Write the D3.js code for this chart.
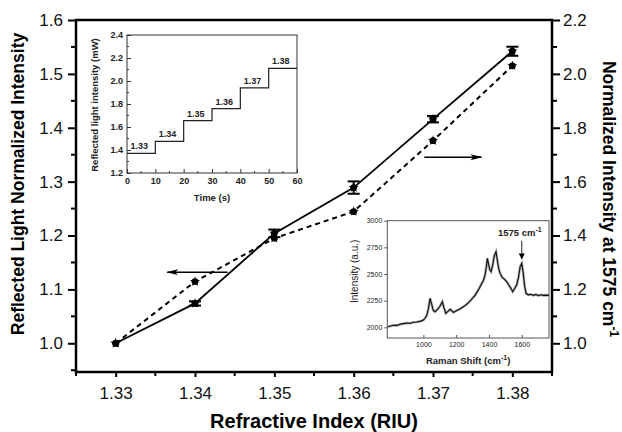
<!DOCTYPE html>
<html><head><meta charset="utf-8">
<script src="https://cdn.jsdelivr.net/npm/d3@7"></script>
<style>body{margin:0;background:#fff}svg{display:block;font-family:"Liberation Sans",Arial,sans-serif}</style>
</head><body>
<svg id="c" width="622" height="432"></svg>
<script>
// ---------- data ----------
const refractiveIndex = [1.33, 1.34, 1.35, 1.36, 1.37, 1.38];
const reflectedLight = [1.0, 1.074, 1.204, 1.289, 1.416, 1.542];   // left axis, solid
const reflectedErr   = [0.0, 0.004, 0.007, 0.0115, 0.006, 0.0084];
const ramanNormalized = [1.0, 1.229, 1.39, 1.489, 1.752, 2.03];    // right axis, dashed
const xTicks = [1.33, 1.34, 1.35, 1.36, 1.37, 1.38];
const yLeftTicks = [1.0, 1.1, 1.2, 1.3, 1.4, 1.5, 1.6];
const yRightTicks = [1.0, 1.2, 1.4, 1.6, 1.8, 2.0, 2.2];

// inset 1: step response
const stepTimes  = [0, 10, 20, 30, 40, 50, 60];
const stepLevels = [1.37, 1.475, 1.655, 1.76, 1.94, 2.11, 2.11];
const stepLabels = ["1.33", "1.34", "1.35", "1.36", "1.37", "1.38"];
const inset1XTicks = [0, 10, 20, 30, 40, 50, 60];
const inset1YTicks = [1.2, 1.4, 1.6, 1.8, 2.0, 2.2, 2.4];

// inset 2: Raman spectrum
const ramanShift = [780,800,820,840,860,880,900,920,940,960,980,1000,1010,1020,1030,1041,1050,1060,1071,1080,1090,1100,1116,1125,1137,1150,1163,1173,1183,1195,1210,1225,1244,1260,1275,1285,1300,1315,1326,1340,1356,1366,1376,1384,1390,1398,1405,1413,1422,1432,1443,1452,1460,1468,1480,1495,1508,1520,1532,1545,1555,1569,1580,1590,1600,1608,1617,1626,1640,1655,1670,1685,1700,1715,1730,1745,1766];
const ramanIntensity = [2005,2012,2020,2018,2030,2035,2040,2038,2047,2050,2056,2068,2085,2110,2170,2272,2220,2160,2146,2160,2175,2195,2240,2185,2131,2150,2169,2155,2140,2150,2162,2175,2193,2210,2232,2247,2275,2300,2328,2365,2412,2440,2490,2570,2647,2590,2540,2522,2580,2670,2709,2620,2545,2506,2470,2450,2428,2400,2370,2334,2360,2397,2470,2570,2600,2520,2390,2319,2305,2310,2300,2308,2298,2305,2300,2302,2300];
const inset2XTicks = [1000, 1200, 1400, 1600];
const inset2YTicks = [2000, 2250, 2500, 2750, 3000];
const ramanPeak = 1600;

// ---------- main chart ----------
const svg = d3.select("#c");
const L = 76, R = 552, T = 20, B = 372;
const x = d3.scaleLinear().domain([1.325, 1.385]).range([L, R]);
const yL = d3.scaleLinear().domain([0.9467, 1.6]).range([B, T]);
const yR = d3.scaleLinear().domain([0.8934, 2.2]).range([B, T]);

const defs = svg.append("defs");
defs.append("marker").attr("id","ah").attr("viewBox","0 0 12 8").attr("refX",11).attr("refY",4)
  .attr("markerWidth",12).attr("markerHeight",8).attr("markerUnits","userSpaceOnUse").attr("orient","auto")
  .append("path").attr("d","M0,1 L12,4 L0,7 L3,4 Z").attr("fill","#000");
defs.append("marker").attr("id","ahs").attr("viewBox","0 0 8 8").attr("refX",7).attr("refY",4)
  .attr("markerWidth",6).attr("markerHeight",6).attr("markerUnits","userSpaceOnUse").attr("orient","auto")
  .append("path").attr("d","M0,0 L8,4 L0,8 Z").attr("fill","#000");

// axes
const gB = svg.append("g").attr("transform",`translate(0,${B})`)
  .call(d3.axisBottom(x).tickValues(xTicks).tickFormat(d3.format(".2f")).tickSize(5).tickPadding(10).tickSizeOuter(0));
const gL = svg.append("g").attr("transform",`translate(${L},0)`)
  .call(d3.axisLeft(yL).tickValues(yLeftTicks).tickFormat(d3.format(".1f")).tickSize(8).tickPadding(5).tickSizeOuter(0));
const gR = svg.append("g").attr("transform",`translate(${R},0)`)
  .call(d3.axisRight(yR).tickValues(yRightTicks).tickFormat(d3.format(".1f")).tickSize(8).tickPadding(3).tickSizeOuter(0));
[gB,gL,gR].forEach(g=>{
  g.select(".domain").remove();
  g.selectAll(".tick line").attr("stroke","#000").attr("stroke-width",2);
  g.selectAll(".tick text").attr("font-size",17).attr("fill","#111");
});
// minor ticks
const minorX = d3.range(1.325, 1.386, 0.01).map(v=>+v.toFixed(3));
svg.append("g").selectAll("line").data(minorX).join("line")
  .attr("x1",d=>x(d)).attr("x2",d=>x(d)).attr("y1",B).attr("y2",B+4).attr("stroke","#000").attr("stroke-width",2);
const minorL = d3.range(0.95, 1.6, 0.1).map(v=>+v.toFixed(2));
svg.append("g").selectAll("line").data(minorL).join("line")
  .attr("x1",L-5).attr("x2",L).attr("y1",d=>yL(d)).attr("y2",d=>yL(d)).attr("stroke","#000").attr("stroke-width",2);
const minorR = d3.range(1.1, 2.2, 0.2).map(v=>+v.toFixed(2));
svg.append("g").selectAll("line").data(minorR).join("line")
  .attr("x1",R).attr("x2",R+5).attr("y1",d=>yR(d)).attr("y2",d=>yR(d)).attr("stroke","#000").attr("stroke-width",2);
// frame
svg.append("rect").attr("x",L).attr("y",T).attr("width",R-L).attr("height",B-T)
  .attr("fill","none").attr("stroke","#000").attr("stroke-width",2.5);

// axis titles
svg.append("text").attr("transform",`translate(24,${(T+B)/2-12}) rotate(-90)`).attr("text-anchor","middle")
  .attr("font-size",17.5).attr("font-weight","bold").text("Reflected Light Normalized Intensity");
const rt = svg.append("text").attr("transform",`translate(603,${(T+B)/2+3}) rotate(90)`).attr("text-anchor","middle")
  .attr("font-size",17.5).attr("font-weight","bold");
rt.append("tspan").text("Normalized Intensity at 1575 cm");
rt.append("tspan").attr("dy",-7).attr("font-size",12).text("-1");
svg.append("text").attr("x",(L+R)/2).attr("y",428).attr("text-anchor","middle")
  .attr("font-size",20).attr("font-weight","bold").text("Refractive Index (RIU)");

// series lines
const solid = d3.line().x((d,i)=>x(refractiveIndex[i])).y(d=>yL(d));
svg.append("path").datum(reflectedLight).attr("d",solid).attr("fill","none").attr("stroke","#000").attr("stroke-width",1.8);
const dashed = d3.line().x((d,i)=>x(refractiveIndex[i])).y(d=>yR(d));
svg.append("path").datum(ramanNormalized).attr("d",dashed).attr("fill","none").attr("stroke","#000")
  .attr("stroke-width",2).attr("stroke-dasharray","5,4");

// error bars
const eg = svg.append("g").attr("stroke","#000").attr("stroke-width",2);
refractiveIndex.forEach((r,i)=>{
  const e = reflectedErr[i]; if(!e) return;
  const cx = x(r), y1 = yL(reflectedLight[i]+e), y2 = yL(reflectedLight[i]-e);
  eg.append("line").attr("x1",cx).attr("x2",cx).attr("y1",y1).attr("y2",y2);
  eg.append("line").attr("x1",cx-6).attr("x2",cx+6).attr("y1",y1).attr("y2",y1);
  eg.append("line").attr("x1",cx-6).attr("x2",cx+6).attr("y1",y2).attr("y2",y2);
});
// markers
const star = d3.symbol().type(d3.symbolStar).size(32);
function markers(vals, ys){
  const g = svg.append("g");
  g.selectAll("path").data(vals).join("path").attr("d",star)
    .attr("transform",(d,i)=>`translate(${x(refractiveIndex[i])},${ys(d)})`).attr("fill","#000");
  g.selectAll("circle").data(vals).join("circle").attr("cx",(d,i)=>x(refractiveIndex[i])).attr("cy",d=>ys(d)).attr("r",3.4).attr("fill","#000");
}
markers(reflectedLight, yL);
markers(ramanNormalized, yR);

// direction arrows
svg.append("line").attr("x1",x(1.3441)).attr("x2",x(1.3365)).attr("y1",yL(1.132)).attr("y2",yL(1.132))
  .attr("stroke","#000").attr("stroke-width",1.5).attr("marker-end","url(#ah)");
svg.append("line").attr("x1",x(1.3689)).attr("x2",x(1.3761)).attr("y1",yR(1.691)).attr("y2",yR(1.691))
  .attr("stroke","#000").attr("stroke-width",1.5).attr("marker-end","url(#ah)");

// ---------- inset 1 ----------
const i1 = {l:127, r:297, t:35, b:173};
const ix = d3.scaleLinear().domain([0,60]).range([i1.l,i1.r]);
const iy = d3.scaleLinear().domain([1.2,2.4]).range([i1.b,i1.t]);
const g1 = svg.append("g");
g1.append("rect").attr("x",i1.l).attr("y",i1.t).attr("width",i1.r-i1.l).attr("height",i1.b-i1.t)
  .attr("fill","#fff").attr("stroke","#333").attr("stroke-width",1);
const a1x = g1.append("g").attr("transform",`translate(0,${i1.b})`)
  .call(d3.axisBottom(ix).tickValues(inset1XTicks).tickSize(-4).tickPadding(5).tickSizeOuter(0));
const a1y = g1.append("g").attr("transform",`translate(${i1.l},0)`)
  .call(d3.axisLeft(iy).tickValues(inset1YTicks).tickFormat(d3.format(".1f")).tickSize(-4).tickPadding(4).tickSizeOuter(0));
[a1x,a1y].forEach(g=>{g.select(".domain").remove();
  g.selectAll(".tick line").attr("stroke","#333");
  g.selectAll(".tick text").attr("font-size",9).attr("font-weight","bold").attr("fill","#222");});
g1.append("g").selectAll("line").data(d3.range(5,60,10)).join("line")
  .attr("x1",d=>ix(d)).attr("x2",d=>ix(d)).attr("y1",i1.b).attr("y2",i1.b-2).attr("stroke","#333");
g1.append("g").selectAll("line").data(d3.range(1.3,2.4,0.2)).join("line")
  .attr("x1",i1.l).attr("x2",i1.l+2).attr("y1",d=>iy(d)).attr("y2",d=>iy(d)).attr("stroke","#333");
g1.append("path").datum(stepLevels).attr("d",d3.line().x((d,i)=>ix(stepTimes[i])).y(d=>iy(d)).curve(d3.curveStepAfter))
  .attr("fill","none").attr("stroke","#222").attr("stroke-width",1.2);
g1.selectAll("text.sl").data(stepLabels).join("text").attr("class","sl")
  .attr("x",(d,i)=>ix(stepTimes[i]+4.3)).attr("y",(d,i)=>iy(stepLevels[i])-4)
  .attr("text-anchor","middle").attr("font-size",9).attr("font-weight","bold").attr("fill","#222").text(d=>d);
g1.append("text").attr("x",(i1.l+i1.r)/2).attr("y",201).attr("text-anchor","middle")
  .attr("font-size",9.5).attr("font-weight","bold").attr("fill","#222").text("Time (s)");
g1.append("text").attr("transform",`translate(98,${(i1.t+i1.b)/2+1}) rotate(-90)`).attr("text-anchor","middle")
  .attr("font-size",9.5).attr("font-weight","bold").attr("fill","#222").text("Reflected light intensity (mW)");

// ---------- inset 2 ----------
const i2 = {l:387.3, r:549, t:220.7, b:338};
const rx = d3.scaleLinear().domain([780,1766]).range([i2.l,i2.r]);
const ry = d3.scaleLinear().domain([1900,3000]).range([i2.b,i2.t]);
const g2 = svg.append("g");
g2.append("rect").attr("x",i2.l).attr("y",i2.t).attr("width",i2.r-i2.l).attr("height",i2.b-i2.t)
  .attr("fill","#fff").attr("stroke","#555").attr("stroke-width",1);
const a2x = g2.append("g").attr("transform",`translate(0,${i2.b})`)
  .call(d3.axisBottom(rx).tickValues(inset2XTicks).tickFormat(d3.format("d")).tickSize(-3).tickPadding(4).tickSizeOuter(0));
const a2y = g2.append("g").attr("transform",`translate(${i2.l},0)`)
  .call(d3.axisLeft(ry).tickValues(inset2YTicks).tickFormat(d3.format("d")).tickSize(3).tickPadding(2).tickSizeOuter(0));
[a2x,a2y].forEach(g=>{g.select(".domain").remove();
  g.selectAll(".tick line").attr("stroke","#555");
  g.selectAll(".tick text").attr("font-size",7).attr("fill","#222");});
const rline = d3.line().x((d,i)=>rx(ramanShift[i])).y(d=>ry(d));
g2.append("path").datum(ramanIntensity).attr("d",rline).attr("fill","none").attr("stroke","#aaa").attr("stroke-width",2.6);
g2.append("path").datum(ramanIntensity).attr("d",rline).attr("fill","none").attr("stroke","#111").attr("stroke-width",1.1);
const lbl = g2.append("text").attr("x",rx(ramanPeak)-2).attr("y",i2.t+15).attr("text-anchor","middle")
  .attr("font-size",9.5).attr("font-weight","bold").attr("fill","#222");
lbl.append("tspan").text("1575 cm");
lbl.append("tspan").attr("dy",-4).attr("font-size",7).text("-1");
g2.append("line").attr("x1",rx(ramanPeak)).attr("x2",rx(ramanPeak)).attr("y1",i2.t+20).attr("y2",i2.t+38)
  .attr("stroke","#222").attr("stroke-width",1).attr("marker-end","url(#ahs)");
const xl = g2.append("text").attr("x",(i2.l+i2.r)/2).attr("y",364).attr("text-anchor","middle")
  .attr("font-size",9.5).attr("font-weight","bold").attr("fill","#222");
xl.append("tspan").text("Raman Shift (cm");
xl.append("tspan").attr("dy",-4).attr("font-size",7).text("-1");
xl.append("tspan").attr("dy",4).text(")");
g2.append("text").attr("transform",`translate(358,${(i2.t+i2.b)/2-8}) rotate(-90)`).attr("text-anchor","middle")
  .attr("font-size",10).attr("fill","#222").text("Intensity (a.u.)");
</script>
</body></html>
